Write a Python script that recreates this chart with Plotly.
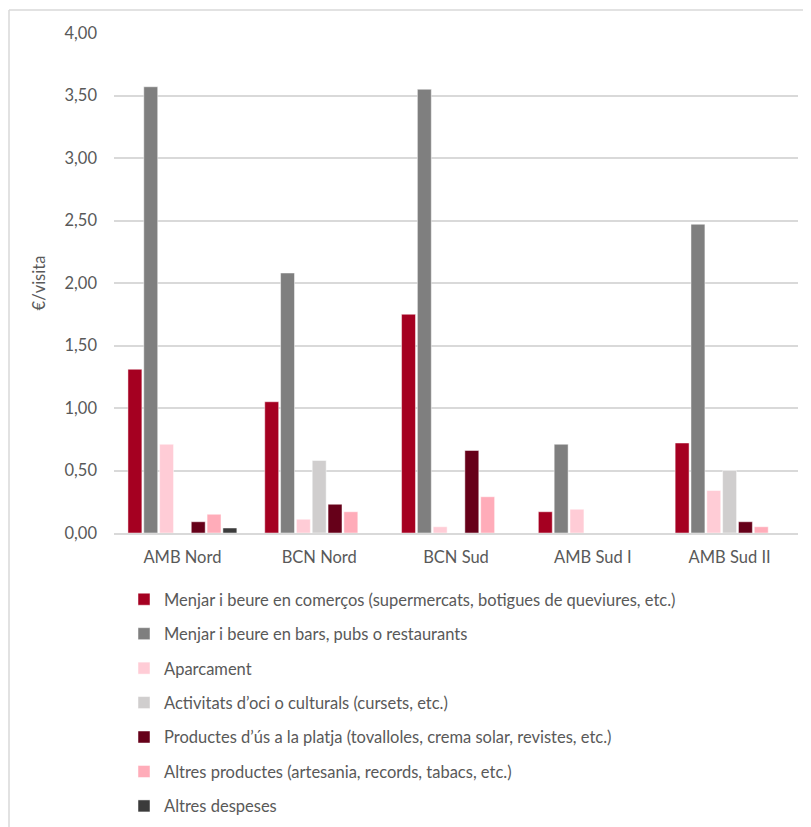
import plotly.graph_objects as go

categories = ["AMB Nord", "BCN Nord", "BCN Sud", "AMB Sud I", "AMB Sud II"]

series_names = [
    "Menjar i beure en comerços (supermercats, botigues de queviures, etc.)",
    "Menjar i beure en bars, pubs o restaurants",
    "Aparcament",
    "Activitats d’oci o culturals (cursets, etc.)",
    "Productes d’ús a la platja (tovalloles, crema solar, revistes, etc.)",
    "Altres productes (artesania, records, tabacs, etc.)",
    "Altres despeses",
]

menjar_comercos = [1.31, 1.05, 1.75, 0.17, 0.72]
menjar_bars = [3.57, 2.08, 3.55, 0.71, 2.47]
aparcament = [0.71, 0.11, 0.05, 0.19, 0.34]
activitats = [0.00, 0.58, 0.00, 0.00, 0.50]
productes_platja = [0.09, 0.23, 0.66, 0.00, 0.09]
altres_productes = [0.15, 0.17, 0.29, 0.00, 0.05]
altres_despeses = [0.04, 0.00, 0.00, 0.00, 0.00]

series_values = [menjar_comercos, menjar_bars, aparcament, activitats,
                 productes_platja, altres_productes, altres_despeses]
colors = ["#A50021", "#7F7F7F", "#FFCCD6", "#D0CECE", "#660019", "#FFACB9", "#3B3B3B"]

FONT = "Lato"
TXT = "#595959"
FS = 16.5

fig = go.Figure()
for i, (name, vals, col) in enumerate(zip(series_names, series_values, colors)):
    fig.add_trace(go.Bar(
        x=categories, y=vals, name=name,
        marker=dict(color=col, line=dict(color="rgba(255,255,255,0.6)", width=0.8)),
        legendgroup=f"g{i}",
    ))

OFF = 8  # page body margin
W, H = 811 - OFF, 827 - OFF
# screen-space plot area: x 114..798, y 33..533
L, T = 114 - OFF, 33 - OFF
R = W - (798 - OFF)
B = H - (533 - OFF)
pw = W - L - R
ph = H - T - B

def px(x):
    return (x - OFF - L) / pw

def py(y):
    return (H - B - (y - OFF)) / ph

fig.update_layout(
    width=W, height=H,
    margin=dict(l=L, r=R, t=T, b=B, autoexpand=False),
    paper_bgcolor="white", plot_bgcolor="white",
    font=dict(family=FONT, size=FS, color=TXT),
    barmode="group", bargap=0.19, bargroupgap=0.12,
    separators=",.",
    showlegend=True,
    legend=dict(
        orientation="v", x=px(124), xanchor="left", y=py(582), yanchor="top",
        font=dict(family=FONT, size=FS, color=TXT),
        tracegroupgap=10, bgcolor="rgba(0,0,0,0)",
    ),
    xaxis=dict(
        showgrid=False, showline=True, linecolor="#D9D9D9", linewidth=1.5,
        ticks="", tickfont=dict(size=FS, color=TXT), ticklabelstandoff=8,
    ),
    yaxis=dict(
        range=[0, 4], dtick=0.5, tickformat=".2f",
        showgrid=True, gridcolor="#D9D9D9", gridwidth=1.5,
        zeroline=False, showline=False, ticks="",
        tickfont=dict(size=FS, color=TXT), ticklabelstandoff=16,
        title=dict(text="€/visita", font=dict(size=FS, color=TXT), standoff=14),
    ),
    shapes=[
        dict(type="line", xref="paper", yref="paper",
             x0=px(9), x1=px(830), y0=py(10), y1=py(10),
             line=dict(color="#D9D9D9", width=1.5)),
        dict(type="line", xref="paper", yref="paper",
             x0=px(9), x1=px(9), y0=py(10), y1=py(840),
             line=dict(color="#D9D9D9", width=1.5)),
    ],
)

fig.write_html("out.html")
